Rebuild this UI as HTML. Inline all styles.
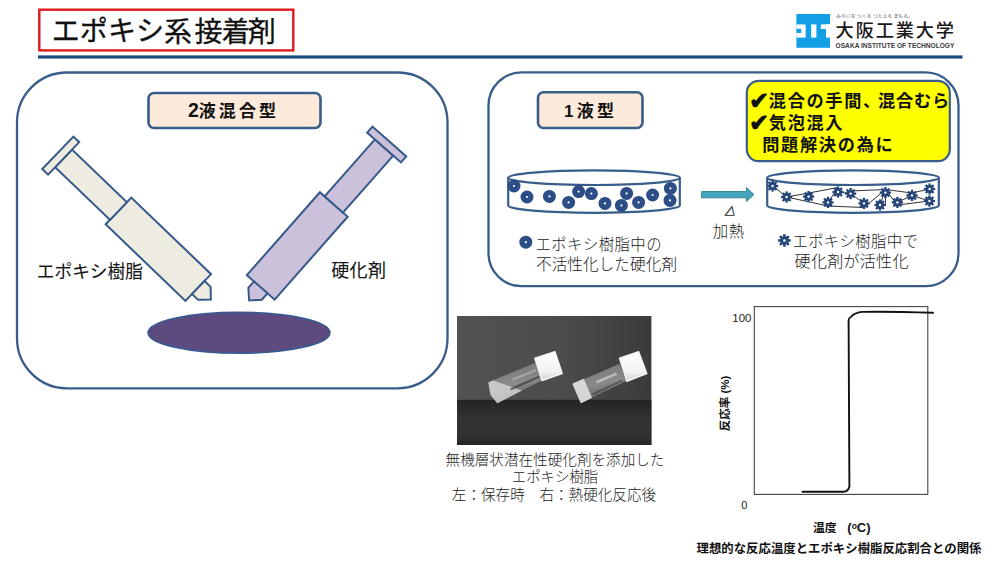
<!DOCTYPE html>
<html lang="ja">
<head>
<meta charset="utf-8">
<title>エポキシ系接着剤</title>
<style>
html,body{margin:0;padding:0;background:#fff;}
body{width:1000px;height:563px;overflow:hidden;position:relative;font-family:"Liberation Sans","Noto Sans CJK JP",sans-serif;}
svg{position:absolute;left:0;top:0;display:block;}
text{font-family:"Liberation Sans","Noto Sans CJK JP",sans-serif;}
.b{font-weight:700;}
.l{font-weight:300;}
</style>
</head>
<body>
<svg width="1000" height="563" viewBox="0 0 1000 563">
<defs>
  <g id="syr">
    <rect x="84" y="-18.5" width="110.5" height="37"/>
    <rect x="8" y="-12.2" width="76" height="24.4"/>
    <rect x="0" y="-22.5" width="8" height="45"/>
    <polygon points="194.5,-9 203,-9 212,0 203,9 194.5,9"/>
  </g>
  <g id="dot"><circle r="3.8" fill="none" stroke="#2c4d86" stroke-width="5.4"/></g>
  <g id="gear">
    <g stroke="#264679" stroke-width="2.3" stroke-linecap="butt">
      <line x1="-5.6" y1="0" x2="5.6" y2="0"/>
      <line x1="-5.6" y1="0" x2="5.6" y2="0" transform="rotate(45)"/>
      <line x1="-5.6" y1="0" x2="5.6" y2="0" transform="rotate(90)"/>
      <line x1="-5.6" y1="0" x2="5.6" y2="0" transform="rotate(135)"/>
    </g>
    <circle r="3.9" fill="#264679"/>
    <circle r="1.2" fill="#fff"/>
  </g>
  <linearGradient id="bgTop" x1="0" y1="0" x2="1" y2="0">
    <stop offset="0" stop-color="#525252"/><stop offset="0.55" stop-color="#4b4b4b"/><stop offset="1" stop-color="#3b3b3b"/>
  </linearGradient>
  <linearGradient id="edge" x1="0" y1="0" x2="0" y2="1">
    <stop offset="0" stop-color="#242424"/><stop offset="0.35" stop-color="#303030"/><stop offset="0.7" stop-color="#333"/><stop offset="1" stop-color="#262626"/>
  </linearGradient>
  <linearGradient id="glass" x1="0" y1="0" x2="0" y2="1">
    <stop offset="0" stop-color="#9a9a9a"/><stop offset="0.15" stop-color="#6a6a6a"/><stop offset="0.5" stop-color="#7c7c7c"/><stop offset="0.85" stop-color="#5c5c5c"/><stop offset="1" stop-color="#8a8a8a"/>
  </linearGradient>
  <linearGradient id="glass1" gradientUnits="objectBoundingBox" x1="0.2" y1="0" x2="0.5" y2="1">
    <stop offset="0" stop-color="#b0b0b0"/><stop offset="0.2" stop-color="#7c7c7c"/><stop offset="0.55" stop-color="#8a8a8a"/><stop offset="0.85" stop-color="#6a6a6a"/><stop offset="1" stop-color="#a0a0a0"/>
  </linearGradient>
  <linearGradient id="cap" x1="0" y1="0" x2="0" y2="1">
    <stop offset="0" stop-color="#ffffff"/><stop offset="0.7" stop-color="#f2f2f2"/><stop offset="1" stop-color="#cfcfcf"/>
  </linearGradient>
  <filter id="soft" x="-5%" y="-5%" width="110%" height="110%"><feGaussianBlur stdDeviation="0.55"/></filter>
</defs>

<!-- header -->
<rect x="39.3" y="9.7" width="254" height="40.7" fill="#fff" stroke="#dc1c1c" stroke-width="2.4"/>
<rect x="38" y="55.4" width="924.5" height="3.2" fill="#1c4a82"/>
<text x="51.8" y="41" font-size="28" fill="#111" letter-spacing="0.05" stroke="#111" stroke-width="0.3"><tspan>エポキシ</tspan><tspan dy="1">系</tspan><tspan dx="2.4">接</tspan><tspan dx="-0.8">着</tspan><tspan dx="-2">剤</tspan></text>

<!-- logo -->
<g>
  <rect x="796.4" y="14" width="33.6" height="33.8" fill="#139fe6"/>
  <rect x="796.4" y="24.4" width="9.2" height="13.2" fill="#fff"/>
  <rect x="796.4" y="28.8" width="4.8" height="4.2" fill="#139fe6"/>
  <rect x="811.2" y="24.4" width="5.2" height="13.2" fill="#fff"/>
  <rect x="820.8" y="24.4" width="9.2" height="4.6" fill="#fff"/>
  <rect x="826" y="24.4" width="4" height="13.2" fill="#fff"/>
  <text x="836" y="17.9" font-size="4" fill="#555" textLength="77" lengthAdjust="spacingAndGlyphs">みらいを つくる つたえる まもる。</text>
  <text x="835.6" y="36.6" font-size="18.2" fill="#1a1a1a" letter-spacing="1.85" style="font-weight:500">大阪工業大学</text>
  <text x="835.6" y="48" font-size="6.5" fill="#3a3a3a" textLength="118.8" lengthAdjust="spacingAndGlyphs" style="font-weight:700">OSAKA INSTITUTE OF TECHNOLOGY</text>
</g>

<!-- left panel -->
<rect x="17" y="72.5" width="430.5" height="315.8" rx="50" ry="50" fill="#fff" stroke="#385d8a" stroke-width="2.3"/>
<rect x="148.5" y="93" width="172" height="35" rx="5.5" ry="5.5" fill="#fdeada" stroke="#385d8a" stroke-width="2.6"/>
<text class="b" x="188" y="117.4" font-size="17" fill="#111" letter-spacing="3.1"><tspan font-size="19.5">2</tspan><tspan x="198.7">液混合型</tspan></text>

<g transform="translate(57.85,152.85) rotate(43.8)" fill="#eeece1" stroke="#35598a" stroke-width="2" stroke-linejoin="miter"><use href="#syr"/></g>
<g transform="translate(389.35,141.5) rotate(131.4)" fill="#ccc1da" stroke="#35598a" stroke-width="2" stroke-linejoin="miter"><use href="#syr"/></g>
<ellipse cx="239" cy="332.7" rx="90.8" ry="20.4" fill="#5d4a7e" stroke="#3b5a92" stroke-width="1.8"/>
<text x="36.8" y="278.4" font-size="17.7" fill="#151515" stroke="#151515" stroke-width="0.1"><tspan dy="-0.6">エポキシ</tspan><tspan dy="0.6">樹脂</tspan></text>
<text x="331.2" y="276.6" font-size="18" fill="#151515" stroke="#151515" stroke-width="0.1" letter-spacing="0.35">硬化剤</text>

<!-- right panel -->
<rect x="488.5" y="72.4" width="470" height="213.8" rx="33" ry="33" fill="#fff" stroke="#385d8a" stroke-width="2.3"/>
<rect x="538" y="92.2" width="104.5" height="35.8" rx="5.5" ry="5.5" fill="#fdeada" stroke="#385d8a" stroke-width="2.6"/>
<text class="b" x="564" y="116.8" font-size="17" fill="#111" letter-spacing="3.3">1液型</text>

<rect x="746.8" y="80.8" width="203" height="80.4" rx="12" ry="12" fill="#ffff00" stroke="#385d8a" stroke-width="2.2"/>
<text class="b" x="749.2" y="108.8" font-size="24.4" fill="#111">✔</text>
<text class="b" x="768.8" y="106.6" font-size="17.2" fill="#111" letter-spacing="1.65">混合の手間、</text>
<text class="b" x="878" y="106.6" font-size="17.2" fill="#111" letter-spacing="0.8">混合むら</text>
<text class="b" x="749.2" y="130.8" font-size="24.4" fill="#111">✔</text>
<text class="b" x="768.8" y="128.8" font-size="17.2" fill="#111" letter-spacing="1.65">気泡混入</text>
<text class="b" x="762.2" y="151.3" font-size="17.2" fill="#111" letter-spacing="1.7">問題解決の為に</text>

<!-- dish 1 -->
<g fill="none" stroke="#385d8a" stroke-width="2.2">
  <path d="M508.2,177.7 V205.5 A85.8,7.3 0 0 0 679.8,205.5 V177.7" fill="#fff"/>
  <ellipse cx="594" cy="177.7" rx="85.8" ry="7.3" fill="#fff"/>
</g>
<g>
  <use href="#dot" x="514" y="186"/><use href="#dot" x="527" y="197"/><use href="#dot" x="549.4" y="196.4"/>
  <use href="#dot" x="568.6" y="202.4"/><use href="#dot" x="578.6" y="191.6"/><use href="#dot" x="591.4" y="193.6"/>
  <use href="#dot" x="605" y="203.4"/><use href="#dot" x="621.4" y="205.4"/><use href="#dot" x="626.6" y="193.4"/>
  <use href="#dot" x="638.6" y="202.4"/><use href="#dot" x="652.6" y="195"/><use href="#dot" x="670.4" y="188.4"/>
  <use href="#dot" x="670" y="200.4"/>
</g>
<use href="#dot" x="525.8" y="242.2"/>
<text class="l" x="535.5" y="249.5" font-size="15.4" fill="#222" letter-spacing="0.42">エポキシ樹脂中の</text>
<text class="l" x="536" y="270" font-size="15.6" fill="#222" letter-spacing="0.08">不活性化した硬化剤</text>

<!-- arrow -->
<polygon points="701.5,191.5 746.5,191.5 746.5,187.6 754,194.6 746.5,201.6 746.5,197.8 701.5,197.8" fill="#45a5bf" stroke="#357d91" stroke-width="0.9"/>
<text transform="translate(729.6,216.4) skewX(13)" font-size="13.4" text-anchor="middle" fill="#222">⊿</text>
<text class="l" x="728.8" y="236.6" font-size="15.4" text-anchor="middle" fill="#222" letter-spacing="0.7">加熱</text>

<!-- dish 2 -->
<g fill="none" stroke="#385d8a" stroke-width="2.2">
  <path d="M767.2,177.7 V205.5 A85.8,7.3 0 0 0 938.8,205.5 V177.7" fill="#fff"/>
  <ellipse cx="853" cy="177.7" rx="85.8" ry="7.3" fill="#fff"/>
</g>
<g fill="none" stroke="#1c1c1c" stroke-width="0.9">
  <polyline points="773,186 786.6,197 828,206 864,207.5 885.4,189.5 897.4,205 929.4,201"/>
  <polyline points="786.6,197 808.6,193 838,187.5 828,202.4"/>
  <polyline points="838,192 850.6,193.6 864,203.4"/>
  <polyline points="850.6,191 885.4,189.5 912,193 929.6,189"/>
  <polyline points="897.4,202.4 912,195.4 929.4,201"/>
  <line x1="885.4" y1="189.5" x2="885.4" y2="206"/>
  <line x1="885.4" y1="189.5" x2="880" y2="205"/>
</g>
<g>
  <use href="#gear" x="772.6" y="186"/><use href="#gear" x="786.6" y="197"/><use href="#gear" x="808.6" y="196.6"/>
  <use href="#gear" x="828" y="202.4"/><use href="#gear" x="838" y="192"/><use href="#gear" x="850.6" y="193.6"/>
  <use href="#gear" x="864" y="203.4"/><use href="#gear" x="880" y="205"/><use href="#gear" x="885.4" y="192.6"/>
  <use href="#gear" x="897.4" y="202.4"/><use href="#gear" x="912" y="195.4"/><use href="#gear" x="929.6" y="189"/>
  <use href="#gear" x="929.4" y="201"/>
</g>
<g transform="translate(784.4,240.5) scale(1.12)"><use href="#gear"/></g>
<text class="l" x="792.4" y="247" font-size="15.4" fill="#222" letter-spacing="0.35">エポキシ樹脂中で</text>
<text class="l" x="794.6" y="266.5" font-size="16" fill="#222" letter-spacing="0.3">硬化剤が活性化</text>

<!-- photo -->
<g>
  <rect x="457" y="316" width="194.4" height="129" fill="url(#bgTop)"/>
  <rect x="457" y="399.8" width="194.4" height="45.2" fill="url(#edge)"/>
  <g filter="url(#soft)">
  <!-- vial 1 -->
  <polygon points="488.3,382.2 536,362.6 542.4,380.3 497.3,403.2 490.5,395" fill="url(#glass1)"/>
  <polygon points="488.3,382.6 493,380.6 522,390.5 497.3,403.2 490.5,395" fill="#d8d8d8" opacity="0.8"/>
  <polygon points="512,378.5 536,369 536.8,371 513,380.5" fill="#cfcfcf" opacity="0.45"/>
  <polygon points="510,388.5 539,375.5 539.8,377.5 511,390.5" fill="#262626" opacity="0.55"/>
  <polygon points="534.9,358.3 554.9,351.8 562.1,373.6 542.1,380.4" fill="url(#cap)" stroke="#f4f4f4" stroke-width="1.6" stroke-linejoin="round"/>
  <!-- vial 2 -->
  <polygon points="572.9,383.9 619.7,363.7 626,381 581,402.8" fill="url(#glass1)"/>
  <polygon points="572.9,383.9 583.5,379.3 591.5,397.7 581,402.8" fill="#d6d6d6" stroke="#d6d6d6" stroke-width="1" stroke-linejoin="round"/>
  <polygon points="596,381 616,372.5 617,375 597,383.5" fill="#dcdcdc" opacity="0.6"/>
  <polygon points="592,393.5 622,379.5 622.8,381.3 593,395.3" fill="#262626" opacity="0.45"/>
  <polygon points="619.6,358.3 638.6,351.8 646.7,373.6 626.9,381.2" fill="url(#cap)" stroke="#f4f4f4" stroke-width="1.6" stroke-linejoin="round"/>
  </g>
</g>
<text class="l" x="555" y="465" font-size="14.6" text-anchor="middle" fill="#222">無機層状潜在性硬化剤を添加した</text>
<text class="l" x="555" y="482.4" font-size="14.4" text-anchor="middle" fill="#222">エポキシ樹脂</text>
<text class="l" x="554" y="499.8" font-size="14.6" text-anchor="middle" fill="#222">左：保存時　右：熱硬化反応後</text>

<!-- chart -->
<rect x="754.3" y="306.6" width="173.5" height="187.8" fill="#fff" stroke="#444" stroke-width="1.1"/>
<path d="M802.5,491.8 H843.5 Q848.3,491.6 849.4,486.5 L848.6,320.5 Q848.6,318 850.8,317 Q854.5,312.6 862.5,311.9 Q885,311.2 933,312.8" fill="none" stroke="#111" stroke-width="1.9" stroke-linecap="round" stroke-linejoin="round"/>
<text x="751.5" y="321.6" font-size="11.5" text-anchor="end" fill="#222">100</text>
<text x="744.3" y="509.3" font-size="11" text-anchor="middle" fill="#222">0</text>
<text class="b" transform="translate(729,403.5) rotate(-90)" font-size="11.5" text-anchor="middle" fill="#111">反応率 (%)</text>
<text class="b" x="813" y="532.3" font-size="11.8" fill="#111">温度<tspan x="847.3" font-size="13">(</tspan><tspan font-size="8.5" dy="-3.8">o</tspan><tspan font-size="13" dy="3.8">C)</tspan></text>
<text class="b" x="839" y="552.8" font-size="12.4" text-anchor="middle" fill="#111">理想的な反応温度とエポキシ樹脂反応割合との関係</text>
</svg>
</body>
</html>
